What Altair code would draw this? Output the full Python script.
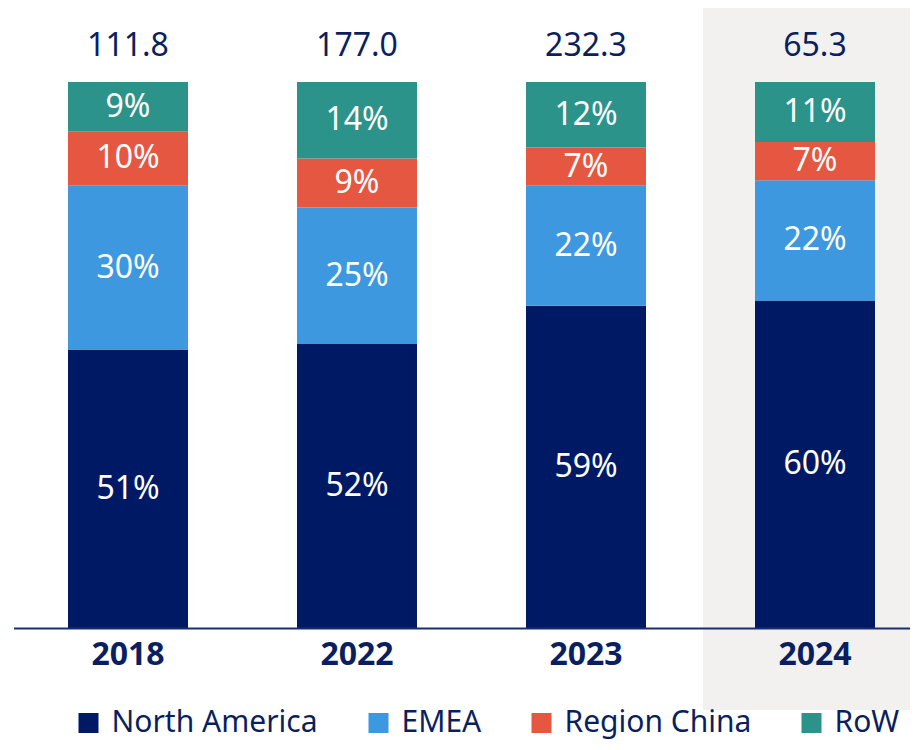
import altair as alt
import pandas as pd

years = ["2018", "2022", "2023", "2024"]
totals = [111.8, 177.0, 232.3, 65.3]
regions = ["North America", "EMEA", "Region China", "RoW"]
north_america = [51, 52, 59, 60]
emea = [30, 25, 22, 22]
region_china = [10, 9, 7, 7]
row_share = [9, 14, 12, 11]
colors = ["#001965", "#3D98DF", "#E65741", "#2B9389"]
highlight_year = "2024"

series = [north_america, emea, region_china, row_share]
rows = []
for i, y in enumerate(years):
    base = 0
    for r, vals in zip(regions, series):
        v = vals[i]
        rows.append({"year": y, "region": r, "share": v, "y0": base, "y1": base + v,
                     "mid": base + v / 2, "label": f"{v}%"})
        base += v
df = pd.DataFrame(rows)
tot = pd.DataFrame({"year": years, "total": [f"{t:.1f}" for t in totals], "top": [100] * len(years)})
hl = pd.DataFrame({"year": [highlight_year]})

FONT = "Noto Sans"
NAVY_TXT = "#0B1F60"

x = alt.X("year:N", sort=years, title=None,
          scale=alt.Scale(paddingInner=0.476, paddingOuter=0.1954, align=0.609),
          axis=alt.Axis(labelFont=FONT, labelFontSize=32, labelFontWeight="bold",
                        labelColor=NAVY_TXT, labelPadding=11, ticks=False,
                        domainColor="#1A2E6C", domainWidth=2, labelAngle=0, zindex=1))
yscale = alt.Scale(domain=[0, 100], nice=False)

highlight = alt.Chart(hl).mark_bar(width=224, color="#F2F1EF").encode(
    x=x, y=alt.value(-75), y2=alt.value(628)
)

bars = alt.Chart(df).mark_bar().encode(
    x=x,
    y=alt.Y("y0:Q", scale=yscale, axis=None),
    y2="y1:Q",
    color=alt.Color("region:N", sort=regions,
                    scale=alt.Scale(domain=regions, range=colors),
                    legend=alt.Legend(title=None, orient="none", direction="horizontal",
                                      legendX=60, legendY=626, symbolType="square",
                                      symbolSize=400, symbolStrokeWidth=0,
                                      labelFont=FONT, labelFontSize=30, labelColor=NAVY_TXT,
                                      labelOffset=8, columnPadding=45, padding=0,
                                      labelLimit=400)),
)

labels = alt.Chart(df).mark_text(color="white", font=FONT, fontSize=32, baseline="middle").encode(
    x=x, y=alt.Y("mid:Q", scale=yscale), text="label:N"
)

totals_txt = alt.Chart(tot).mark_text(color=NAVY_TXT, font=FONT, fontSize=32,
                                      baseline="middle", dy=-36).encode(
    x=x, y=alt.Y("top:Q", scale=yscale), text="total:N"
)

chart = alt.layer(highlight, bars, labels, totals_txt).properties(
    width=896.5, height=546,
    autosize=alt.AutoSizeParams(type="none"),
    padding={"left": 5.5, "top": 74, "right": 0, "bottom": 114},
).configure_view(stroke=None).configure_axis(grid=False)

chart.save("out.html", embed_options={"renderer": "svg", "actions": False})
